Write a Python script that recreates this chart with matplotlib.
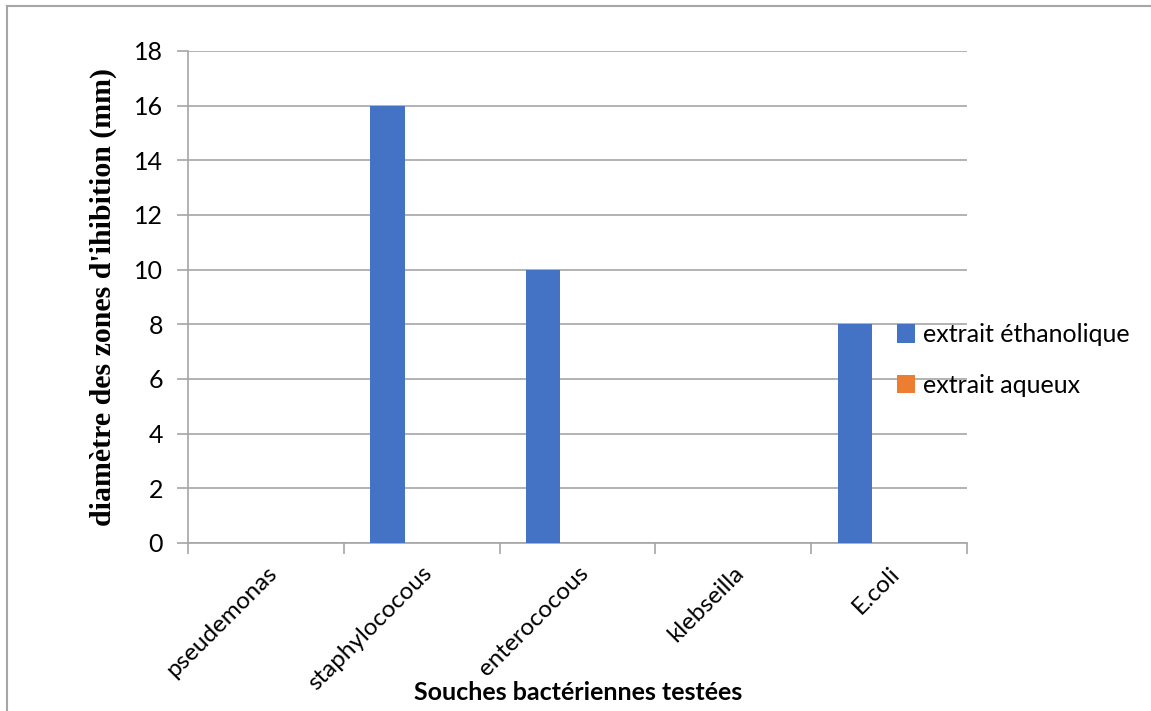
import numpy as np
import matplotlib
matplotlib.use('Agg')
import matplotlib.pyplot as plt
import matplotlib.transforms as mtransforms
from matplotlib.lines import Line2D

# ---------------------------------------------------------------------------
strains = ['pseudemonas', 'staphylococous', 'enterococous', 'klebseilla', 'E.coli']
ethanol = [0, 16, 10, 0, 8]
aqueous = [0, 0, 0, 0, 0]
series_names = ['extrait éthanolique', 'extrait aqueux']
yticks = [0, 2, 4, 6, 8, 10, 12, 14, 16, 18]

C_ETH = '#4472C4'
C_AQ = '#ED7D31'
GRID = '#A6A6A6'
SANS = ['Lato', 'DejaVu Sans']
SERIF = ['Liberation Serif', 'DejaVu Serif']

fig = plt.figure(figsize=(11.51, 7.11), dpi=100)
ax = fig.add_axes([188 / 1151, 1 - 543 / 711, (967 - 188) / 1151, (543 - 51) / 711])

x = np.arange(len(strains))
w = 0.22
ax.bar(x - w, ethanol, width=w, color=C_ETH, label=series_names[0], zorder=3)
ax.bar(x, aqueous, width=w, color=C_AQ, label=series_names[1], zorder=3)

ax.set_xlim(-0.5, len(strains) - 0.5)
ax.set_ylim(0, 18)
ax.set_yticks(yticks)
ax.set_yticklabels([str(v) for v in yticks], fontsize=18, family=SANS)
ax.grid(axis='y', color=GRID, lw=1.2, zorder=0)
ax.set_axisbelow(True)

# category boundary ticks, labels centered in categories
ax.set_xticks(np.arange(len(strains) + 1) - 0.5)
ax.set_xticklabels([])
ax.set_xticks(x, minor=True)
ax.set_xticklabels(strains, minor=True, rotation=45, ha='right',
                   rotation_mode='anchor', fontsize=17.5, family=SANS)
shift = mtransforms.ScaledTranslation(-6 / 100, 0, fig.dpi_scale_trans)
for lbl in ax.get_xticklabels(minor=True):
    lbl.set_transform(lbl.get_transform() + shift)
ax.tick_params(axis='x', which='minor', length=0, pad=14)
ax.tick_params(axis='x', which='major', length=8, color=GRID, width=1.2)
ax.tick_params(axis='y', length=8, color=GRID, width=1.2, pad=10)

for s in ['top', 'right']:
    ax.spines[s].set_visible(False)
for s in ['left', 'bottom']:
    ax.spines[s].set_color(GRID)
    ax.spines[s].set_linewidth(1.2)

ax.set_ylabel("diamètre des zones d'ihibition (mm)", fontsize=21.5,
              fontweight='bold', family=SERIF, labelpad=12)
fig.text(578 / 1151, 1 - 693 / 711, 'Souches bactériennes testées',
         ha='center', va='center', fontsize=18, fontweight='bold', family=SANS)

ax.legend(loc='center left', bbox_to_anchor=(874 / 1151, 1 - 360 / 711),
          bbox_transform=fig.transFigure, frameon=False,
          prop={'family': SANS, 'size': 18}, handlelength=0.75,
          handleheight=0.75, handletextpad=0.3, labelspacing=1.1)

# outer border (top and left only visible)
fig.add_artist(Line2D([7 / 1151, 1], [1 - 6 / 711, 1 - 6 / 711],
                      transform=fig.transFigure, color='#A6A6A6', lw=1.5))
fig.add_artist(Line2D([7 / 1151, 7 / 1151], [0, 1 - 6 / 711],
                      transform=fig.transFigure, color='#A6A6A6', lw=1.5))

fig.savefig('out.png', dpi=100)
